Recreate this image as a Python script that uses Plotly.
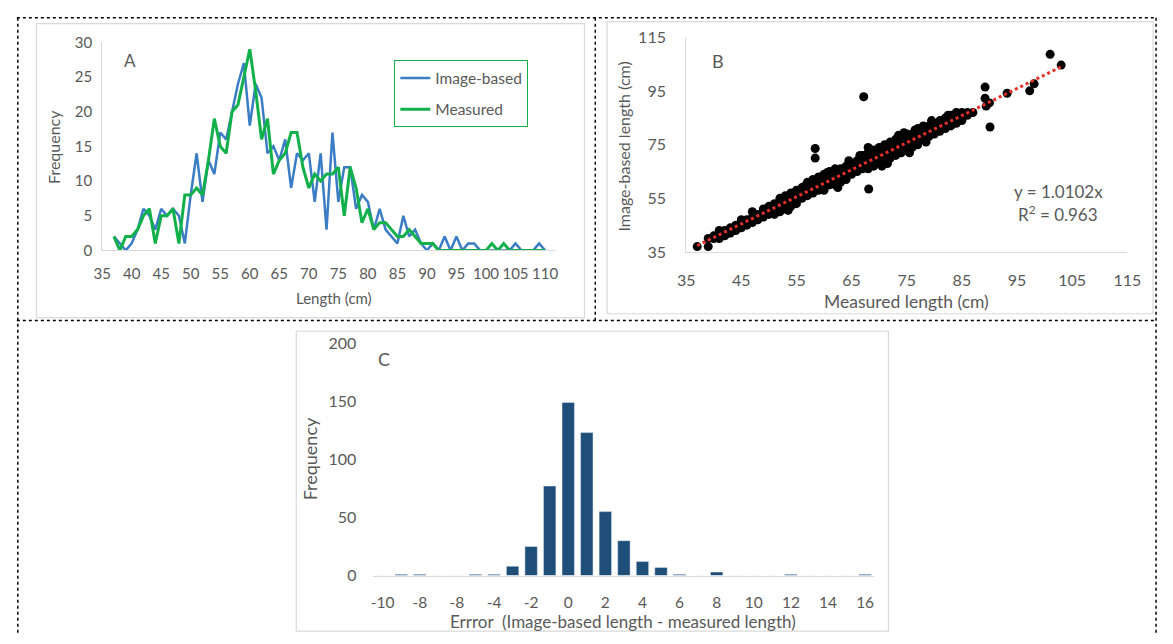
import plotly.graph_objects as go

W, H = 1173, 644

# ---------------- Panel A data (frequency by length) ----------------
lengths_a = list(range(37, 111))
image_based_freq = [2, 1, 0, 1, 3, 6, 5, 3, 6, 5, 6, 5, 1, 8, 14, 7, 13, 11, 17, 16,
                    20, 24, 27, 18, 24, 22, 14, 15, 13, 16, 9, 14, 13, 14, 7, 14, 3, 17, 7, 12,
                    12, 6, 8, 7, 3, 6, 3, 2, 1, 5, 2, 3, 1, 0, 1, 0, 2, 0, 2, 0,
                    1, 1, 0, 0, 0, 0, 0, 0, 1, 0, 0, 0, 1, 0]
measured_freq = [2, 0, 2, 2, 3, 5, 6, 1, 5, 5, 6, 1, 8, 8, 9, 8, 13, 19, 15, 14,
                 20, 21, 25, 29, 23, 16, 19, 11, 13, 14, 17, 17, 12, 9, 11, 10, 11, 11, 12, 5,
                 12, 9, 4, 6, 3, 4, 4, 3, 2, 2, 3, 2, 1, 1, 1, 0, 0, 0, 0, 0,
                 0, 0, 0, 0, 1, 0, 1, 0, 0, 0, 0, 0, 0, 0]
a_xticks = list(range(35, 111, 5))
a_yticks = [0, 5, 10, 15, 20, 25, 30]

# ---------------- Panel B data (measured vs image-based) ----------------
measured_len = [37,
                39, 39,
                40, 40,
                41, 41, 41,
                42, 42, 42,
                43, 43, 43,
                44, 44, 44,
                45, 45, 45,
                46, 46, 46,
                47, 47, 47,
                48, 48, 48,
                49, 49, 49,
                50, 50, 50,
                51, 51, 51,
                52, 52, 52,
                53, 53, 53,
                54, 54, 54,
                55, 55, 55,
                56, 56, 56,
                57, 57, 57,
                58, 58, 58, 58.4, 58.4,
                59, 59, 59,
                60, 60, 60,
                61, 61, 61,
                62, 62, 62,
                63, 63, 63,
                64, 64, 64,
                65, 65, 65,
                66, 66, 66,
                67, 67, 67, 67.2,
                68, 68, 68, 68.1, 68,
                69, 69, 69,
                70, 70, 70,
                71, 71, 71,
                72, 72, 72,
                73, 73, 73,
                74, 74, 74,
                75, 75, 75,
                76, 76, 76,
                77, 77, 77,
                78, 78, 78,
                79, 79, 79,
                80, 80, 80,
                81, 81, 81,
                82, 82, 82,
                83, 83, 83,
                84, 84, 84,
                85, 85, 85,
                86, 86,
                87,
                89.2, 89.2, 89.4, 90, 90.1, 93.2, 97.3, 98.1, 101, 103,
                53.5, 56.5, 60.5, 62.5, 66.5, 70.5, 73.5, 75.5, 79.5, 82.5,
                64.5, 68.5, 71.5, 74.5, 76.5, 78.5]
image_len = [37,
             37, 40,
             40, 41,
             42, 40, 43,
             43, 41, 42,
             43, 44, 42,
             45, 43, 44,
             46, 44, 47,
             47, 45, 46,
             48, 46, 50,
             49, 47, 48,
             50, 48, 51,
             51, 49, 52,
             52, 49, 53,
             53, 50, 55,
             54, 51, 56,
             55, 52, 57,
             56, 53, 58,
             57, 55, 59,
             58, 56, 61,
             59, 57, 62, 73.6, 70,
             60, 58, 63,
             61, 58, 64,
             62, 60, 65,
             63, 60, 66,
             64, 61, 66,
             65, 62, 67,
             66, 64, 68,
             67, 65, 69,
             68, 66, 71, 92.9,
             69, 66, 72, 58.5, 74,
             70, 67, 73,
             71, 69, 74,
             72, 70, 75,
             73, 70, 76,
             74, 71, 77,
             75, 72, 78,
             76, 73, 79,
             77, 74, 79,
             78, 75, 81,
             79, 77, 82,
             80, 78, 82,
             81, 79, 83,
             82, 80, 84,
             83, 81, 85,
             84, 82, 86,
             85, 83, 87,
             86, 84, 87,
             87, 86,
             87,
             96.5, 92.3, 89.4, 90.6, 81.6, 94.2, 95.1, 97.7, 108.7, 104.7,
             50.5, 59.5, 64.5, 59, 71, 67, 78.5, 72, 84, 86,
             69, 72.5, 68, 79.5, 80.5, 76]
trend_slope = 1.0102
r_squared = 0.963
b_ticks = [35, 45, 55, 65, 75, 85, 95, 105, 115]
b_yticks = [35, 55, 75, 95, 115]

# ---------------- Panel C data (error histogram) ----------------
error_bins = list(range(-10, 17))
error_freq = [0, 1, 1, 0, 0, 1, 1, 8, 25, 77, 149, 123, 55, 30, 12, 7, 1, 0, 3, 0, 0, 0, 1, 0, 0, 0, 1]
c_tickvals = list(range(-10, 17, 2))
c_ticktext = ["-10", "-8", "-8", "-4", "-2", "0", "2", "4", "6", "8", "10", "12", "14", "16"]
c_yticks = [0, 50, 100, 150, 200]

# ---------------- helpers ----------------
def px(x):
    return x / W

def py(y):
    return 1 - y / H

FONT = "Lato, 'Open Sans', sans-serif"
GRAY_TXT = "#595959"
AXIS_GRAY = "#d9d9d9"
BLUE = "#3B7DC4"
GREEN = "#12B04A"
BAR = "#1F4E79"

fig = go.Figure()

# Panel A
fig.add_trace(go.Scatter(x=lengths_a, y=image_based_freq, mode="lines", name="Image-based",
                         legendgroup="img", line=dict(color=BLUE, width=2.5),
                         xaxis="x", yaxis="y"))
fig.add_trace(go.Scatter(x=lengths_a, y=measured_freq, mode="lines", name="Measured",
                         legendgroup="meas", line=dict(color=GREEN, width=3),
                         xaxis="x", yaxis="y"))

# Panel B
fig.add_trace(go.Scatter(x=measured_len, y=image_len, mode="markers", showlegend=False,
                         marker=dict(color="black", size=9), xaxis="x2", yaxis="y2"))
tx = [37, 103]
ty = [trend_slope * v for v in tx]
fig.add_trace(go.Scatter(x=tx, y=ty, mode="lines", showlegend=False,
                         line=dict(color="#E8302A", width=3, dash="dot"), xaxis="x2", yaxis="y2"))

# Panel C
fig.add_trace(go.Bar(x=error_bins, y=error_freq, marker=dict(color=BAR), showlegend=False,
                     xaxis="x3", yaxis="y3"))

tickfont_a = dict(family=FONT, size=15, color=GRAY_TXT)
tickfont_b = dict(family=FONT, size=16, color=GRAY_TXT)
tickfont_c = dict(family=FONT, size=15.5, color=GRAY_TXT)

fig.update_layout(
    width=W, height=H, margin=dict(l=0, r=0, t=0, b=0),
    paper_bgcolor="white", plot_bgcolor="white",
    bargap=0.33,
    font=dict(family=FONT, color=GRAY_TXT),
    xaxis=dict(domain=[px(95), px(557)], range=[35, 111.7], tickvals=a_xticks,
               showgrid=False, zeroline=False, showline=True, linecolor=AXIS_GRAY, linewidth=1,
               ticks="", tickfont=tickfont_a, ticklabelstandoff=10, anchor="y"),
    yaxis=dict(domain=[py(247.7), py(33.3)], range=[0, 30], tickvals=a_yticks,
               showgrid=False, zeroline=False, showline=True, linecolor=AXIS_GRAY, linewidth=1,
               ticks="", tickfont=tickfont_a, ticklabelstandoff=6, anchor="x"),
    xaxis2=dict(domain=[px(690.7), px(1140.7)], range=[35, 115], tickvals=b_ticks,
                showgrid=False, zeroline=False, showline=True, linecolor=AXIS_GRAY, linewidth=1,
                ticks="", tickfont=tickfont_b, ticklabelstandoff=14, anchor="y2"),
    yaxis2=dict(domain=[py(249.3), py(28.3)], range=[35, 115], tickvals=b_yticks,
                showgrid=False, zeroline=False, showline=True, linecolor=AXIS_GRAY, linewidth=1,
                ticks="", tickfont=tickfont_b, ticklabelstandoff=16, anchor="x2"),
    xaxis3=dict(domain=[px(371.7), px(882.7)], range=[-10.5, 16.5], tickvals=c_tickvals,
                ticktext=c_ticktext, showgrid=False, zeroline=False, showline=True,
                linecolor=AXIS_GRAY, linewidth=1, ticks="", tickfont=tickfont_c,
                ticklabelstandoff=13, anchor="y3"),
    yaxis3=dict(domain=[py(582.7), py(343.3)], range=[0, 200], tickvals=c_yticks,
                showgrid=False, zeroline=False, showline=False, ticks="", tickfont=tickfont_b,
                ticklabelstandoff=16, anchor="x3"),
    legend=dict(x=px(393), y=py(52), xanchor="left", yanchor="top",
                bordercolor=GREEN, borderwidth=1, bgcolor="white",
                font=dict(family=FONT, size=15.5, color=GRAY_TXT),
                itemwidth=30, tracegroupgap=8),
    showlegend=True,
)

# chart-area frames and dashed panel borders
shapes = []
for (x0, y0, x1, y1) in [(28, 14, 587, 317), (610, 12, 1167, 313), (293, 331, 897, 640)]:
    shapes.append(dict(type="rect", xref="paper", yref="paper", x0=px(x0), x1=px(x1),
                       y0=py(y1), y1=py(y0), line=dict(color=AXIS_GRAY, width=1.2),
                       fillcolor="rgba(0,0,0,0)", layer="below"))
dash = dict(color="black", width=1.5, dash="dot")
for (x0, y0, x1, y1) in [(8, 8, 1170, 8), (8, 320, 1170, 320), (9, 8, 9, 644),
                         (1170, 8, 1170, 644), (598, 8, 598, 320)]:
    shapes.append(dict(type="line", xref="paper", yref="paper", x0=px(x0), x1=px(x1),
                       y0=py(y0), y1=py(y1), line=dash))
fig.update_layout(shapes=shapes)

def ann(text, x, y, size, angle=0):
    fig.add_annotation(text=text, x=px(x), y=py(y), xref="paper", yref="paper",
                       showarrow=False, textangle=angle, xanchor="center", yanchor="middle",
                       font=dict(family=FONT, size=size, color=GRAY_TXT))

ann("A", 123, 52, 17)
ann("B", 723, 53, 18)
ann("C", 383, 360, 18)
ann("Frequency", 46, 141, 16, -90)
ann("Length (cm)", 331, 297, 15)
ann("Image-based length (cm)", 627, 141, 16, -90)
ann("Measured length (cm)", 915, 300, 17.5)
ann("Frequency", 307, 462, 18, -90)
ann("Errror  (Image-based length - measured length)", 626, 630, 17)
ann(f"y = {trend_slope}x", 1070, 187, 17)
ann(f"R<sup>2</sup> = {r_squared}", 1070, 210, 17)

fig.write_html("out.html",
               config={"displayModeBar": False, "staticPlot": True},
               post_script="document.body.style.margin='0px';document.body.style.overflow='hidden';")
